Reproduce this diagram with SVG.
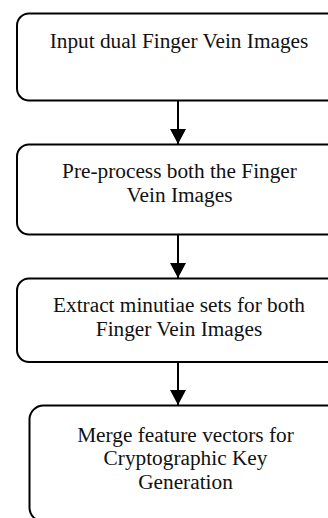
<svg xmlns="http://www.w3.org/2000/svg" width="328" height="518" viewBox="0 0 328 518">
<defs>
<style>
.box{fill:#fff;stroke:#000;stroke-width:2}
.t{font-family:"Liberation Serif","Times New Roman",serif;font-size:21.3px;fill:#111;text-anchor:middle}
.c{stroke:#000;stroke-width:2;fill:none}
</style>
<marker id="ah" markerUnits="userSpaceOnUse" markerWidth="16" markerHeight="17" refX="15" refY="8" orient="auto">
<path d="M0,0 L15,8 L0,16 Z" fill="#000"/>
</marker>
</defs>
<rect width="328" height="518" fill="#fff"/>
<g id="n1">
<rect class="box" x="17" y="13.5" width="325" height="87" rx="12"/>
<text class="t" x="179" y="47.5">Input dual Finger Vein Images</text>
</g>
<g id="n2">
<rect class="box" x="17" y="144.5" width="325" height="90" rx="12"/>
<text class="t" x="179.5" y="178.3">Pre-process both the Finger</text>
<text class="t" x="179.5" y="201.8">Vein Images</text>
</g>
<g id="n3">
<rect class="box" x="17" y="278.5" width="325" height="83.5" rx="12"/>
<text class="t" x="179" y="312.3">Extract minutiae sets for both</text>
<text class="t" x="179" y="335.8">Finger Vein Images</text>
</g>
<g id="n4">
<rect class="box" x="29.5" y="405.5" width="312" height="116" rx="14"/>
<text class="t" x="185.5" y="441.7">Merge feature vectors for</text>
<text class="t" x="185.5" y="465">Cryptographic Key</text>
<text class="t" x="185.5" y="488.5">Generation</text>
</g>
<g id="connectors">
<line class="c" x1="178" y1="100.5" x2="178" y2="144" marker-end="url(#ah)"/>
<line class="c" x1="178" y1="234.5" x2="178" y2="278" marker-end="url(#ah)"/>
<line class="c" x1="178" y1="362" x2="178" y2="405" marker-end="url(#ah)"/>
</g>
</svg>
